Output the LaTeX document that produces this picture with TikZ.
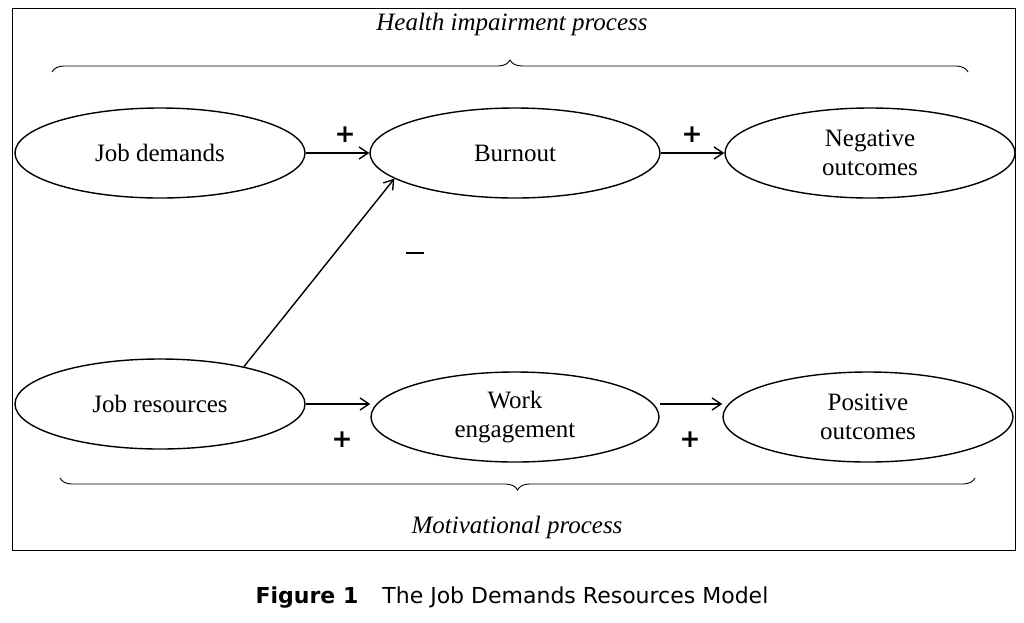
\documentclass[tikz,border=0pt]{standalone}
\usepackage{fontspec}
\setmainfont{Liberation Serif}
\newfontfamily\capfont{DejaVu Sans}
\usetikzlibrary{decorations.pathreplacing,shapes.geometric,arrows.meta}
\begin{document}
\begin{tikzpicture}[x=1pt,y=-1pt,
  el/.style={draw,line width=1.4pt,ellipse,inner sep=0pt,minimum width=290pt,minimum height=90pt,align=center,font=\fontsize{25}{29}\selectfont},
  arr/.style={-{Straight Barb[length=9pt,width=12pt]},line width=1.4pt},
  sign/.style={font=\fontsize{25}{25}\capfont\bfseries},
  br/.style={decorate,decoration={brace,amplitude=12pt},line width=0.9pt},
  lab/.style={font=\fontsize{25}{29}\selectfont\itshape}]
\useasboundingbox (0,0) rectangle (1024,622);
\draw[line width=0.9pt] (12,8) rectangle (1015,550);
\node[el] (jd) at (160,153) {Job demands};
\node[el] (bo) at (515,153) {Burnout};
\node[el] (no) at (870,153) {Negative\\outcomes};
\node[el] (jr) at (160,404) {Job resources};
\node[el,minimum width=288pt] (we) at (515,417) {Work\\engagement};
\node[el] (po) at (868,417) {Positive\\outcomes};
\draw[arr] (jd.east) -- (bo.west);
\draw[arr] (bo.east) -- (no.west);
\draw[arr] (jr.24) -- (bo.192);
\draw[arr] (jr.east) -- (jr.east -| we.west);
\draw[arr] (we.east |- jr.east) -- (po.west |- jr.east);
\node[sign] (p1) at (345,135) {+};
\node[sign] (p2) at (692,135) {+};
\node[sign] (p3) at (342,440) {+};
\node[sign] (p4) at (690,440) {+};
\node[inner sep=0pt] (m1) at (415,253) {\rule{18pt}{2.6pt}};
\coordinate (t1) at (52,72); \coordinate (t2) at (968,72);
\draw[br] (t1) -- (t2);
\coordinate (b1) at (975,478); \coordinate (b2) at (60,478);
\draw[br] (b1) -- (b2);
\node[lab] (hl) at (512,24) {Health impairment process};
\node[lab] (ml) at (517,527) {Motivational process};
\node[font=\fontsize{22}{26}\capfont] (cap) at (512,598) {\textbf{Figure 1}\hspace{24pt}The Job Demands Resources Model};
\end{tikzpicture}
\end{document}
